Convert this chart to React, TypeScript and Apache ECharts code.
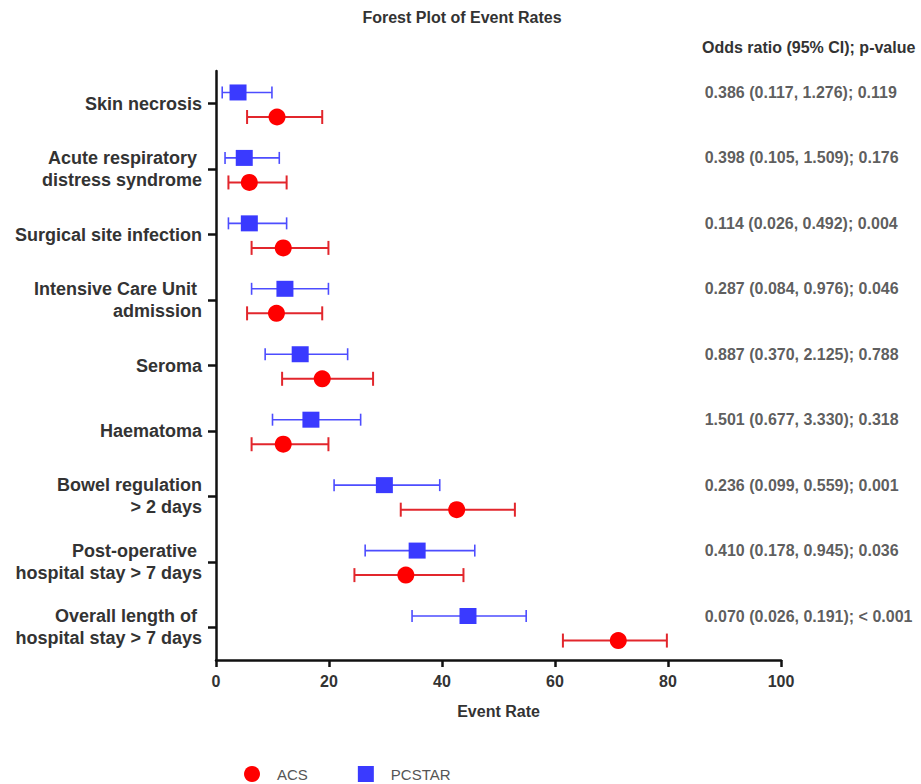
import React, { useEffect, useRef } from "react";
import * as echarts from "echarts";

const categories = [
  "Skin necrosis",
  "Acute respiratory \ndistress syndrome",
  "Surgical site infection",
  "Intensive Care Unit \nadmission",
  "Seroma",
  "Haematoma",
  "Bowel regulation\n> 2 days",
  "Post-operative \nhospital stay > 7 days",
  "Overall length of \nhospital stay > 7 days",
];

const pcstarMean = [3.9, 5.0, 5.9, 12.2, 14.9, 16.8, 29.8, 35.6, 44.6];
const pcstarLow = [1.1, 1.6, 2.2, 6.3, 8.7, 10.0, 20.9, 26.4, 34.7];
const pcstarHigh = [9.9, 11.2, 12.5, 19.9, 23.3, 25.6, 39.6, 45.8, 54.9];

const acsMean = [10.8, 5.9, 11.9, 10.7, 18.8, 11.9, 42.6, 33.6, 71.2];
const acsLow = [5.5, 2.2, 6.3, 5.5, 11.7, 6.3, 32.7, 24.5, 61.4];
const acsHigh = [18.8, 12.5, 19.9, 18.8, 27.8, 19.9, 52.9, 43.8, 79.8];

const oddsText = [
  "0.386 (0.117, 1.276); 0.119",
  "0.398 (0.105, 1.509); 0.176",
  "0.114 (0.026, 0.492); 0.004",
  "0.287 (0.084, 0.976); 0.046",
  "0.887 (0.370, 2.125); 0.788",
  "1.501 (0.677, 3.330); 0.318",
  "0.236 (0.099, 0.559); 0.001",
  "0.410 (0.178, 0.945); 0.036",
  "0.070 (0.026, 0.191); < 0.001",
];

const xTicks = [0, 20, 40, 60, 80, 100];

const FONT = "'Liberation Sans', Arial, Helvetica, sans-serif";
const PC_OFF = -0.172;
const ACS_OFF = 0.203;

function errorBarSeries(name: string, low: number[], high: number[], off: number, color: string, lw: number, cap: number) {
  return {
    name,
    type: "custom",
    xAxisIndex: 0,
    yAxisIndex: 1,
    z: 2,
    silent: true,
    encode: { x: [0, 1], y: 2 },
    data: low.map((l, i) => [l, high[i], i + off]),
    renderItem: (params: any, api: any) => {
      const a = api.coord([api.value(0), api.value(2)]);
      const b = api.coord([api.value(1), api.value(2)]);
      const style = { stroke: color, lineWidth: lw };
      return {
        type: "group",
        children: [
          { type: "line", shape: { x1: a[0], y1: a[1], x2: b[0], y2: b[1] }, style },
          { type: "line", shape: { x1: a[0], y1: a[1] - cap, x2: a[0], y2: a[1] + cap }, style },
          { type: "line", shape: { x1: b[0], y1: b[1] - cap, x2: b[0], y2: b[1] + cap }, style },
        ],
      };
    },
  };
}

export default function App() {
  const ref = useRef<HTMLDivElement>(null);
  useEffect(() => {
    if (!ref.current) return;
    const chart = echarts.init(ref.current, undefined, { renderer: "svg" });
    const option: any = {
      animation: false,
      backgroundColor: "#ffffff",
      textStyle: { fontFamily: FONT },
      graphic: [
        {
          type: "text",
          x: 462,
          y: 17,
          style: {
            text: "Forest Plot of Event Rates",
            fill: "#333",
            font: `bold 16px ${FONT}`,
            textAlign: "center",
            textVerticalAlign: "middle",
          },
        },
        {
          type: "text",
          x: 702,
          y: 47,
          style: {
            text: "Odds ratio (95% CI); p-value",
            fill: "#333",
            font: `bold 16px ${FONT}`,
            textVerticalAlign: "middle",
          },
        },
      ],
      legend: {
        left: 244,
        top: 766,
        padding: 0,
        itemWidth: 16,
        itemHeight: 16,
        itemGap: 50,
        textStyle: { fontSize: 15, color: "#555", fontFamily: FONT, padding: [0, 0, 0, 12] },
        data: [
          { name: "ACS", icon: "circle" },
          { name: "PCSTAR", icon: "rect" },
        ],
      },
      grid: { left: 216, right: 140, top: 71, bottom: 124, containLabel: false },
      xAxis: {
        type: "value",
        min: 0,
        max: 100,
        interval: 20,
        name: "Event Rate",
        nameLocation: "middle",
        nameGap: 43,
        nameTextStyle: { fontSize: 16, fontWeight: "bold", color: "#333", fontFamily: FONT },
        axisLine: { show: true, onZero: false, lineStyle: { color: "#111", width: 2.5 } },
        axisTick: { show: true, length: 7, lineStyle: { color: "#111", width: 2.5 } },
        axisLabel: {
          fontSize: 16,
          fontWeight: "bold",
          color: "#333",
          margin: 13,
          fontFamily: FONT,
          formatter: (v: number) => (xTicks.includes(v) ? String(v) : ""),
        },
        splitLine: { show: false },
      },
      yAxis: [
        {
          type: "category",
          data: categories,
          inverse: true,
          axisLine: { show: true, onZero: false, lineStyle: { color: "#111", width: 2.5 } },
          axisTick: { show: true, alignWithLabel: true, length: 8, lineStyle: { color: "#111", width: 2.5 } },
          axisLabel: {
            fontSize: 18,
            fontWeight: "bold",
            color: "#333",
            lineHeight: 22,
            margin: 14,
            fontFamily: FONT,
            align: "right",
          },
          splitLine: { show: false },
        },
        {
          type: "value",
          min: -0.5,
          max: 8.5,
          inverse: true,
          show: false,
          splitLine: { show: false },
        },
      ],
      series: [
        errorBarSeries("PCSTAR_ci", pcstarLow, pcstarHigh, PC_OFF, "#4d4dff", 1.6, 6),
        errorBarSeries("ACS_ci", acsLow, acsHigh, ACS_OFF, "#e2262c", 2, 7),
        {
          name: "PCSTAR",
          type: "scatter",
          xAxisIndex: 0,
          yAxisIndex: 1,
          z: 3,
          symbol: "rect",
          symbolSize: [17, 16],
          itemStyle: { color: "#3a3aff", opacity: 1 },
          data: pcstarMean.map((m, i) => [m, i + PC_OFF]),
        },
        {
          name: "ACS",
          type: "scatter",
          xAxisIndex: 0,
          yAxisIndex: 1,
          z: 3,
          symbol: "circle",
          symbolSize: 17,
          itemStyle: { color: "#ff0000", opacity: 1 },
          data: acsMean.map((m, i) => [m, i + ACS_OFF]),
        },
        {
          name: "annotations",
          type: "scatter",
          xAxisIndex: 0,
          yAxisIndex: 1,
          z: 4,
          symbolSize: 0,
          silent: true,
          data: oddsText.map((t, i) => ({ value: [86.5, i + PC_OFF], label: { formatter: t } })),
          label: {
            show: true,
            position: "right",
            distance: 0,
            fontSize: 16,
            fontWeight: "bold",
            color: "#333",
            fontFamily: FONT,
          },
        },
      ],
    };
    chart.setOption(option);
    return () => chart.dispose();
  }, []);
  return (
    <div
      ref={ref}
      style={{ position: "fixed", left: 0, top: 0, width: 921, height: 784, background: "#fff" }}
    />
  );
}
